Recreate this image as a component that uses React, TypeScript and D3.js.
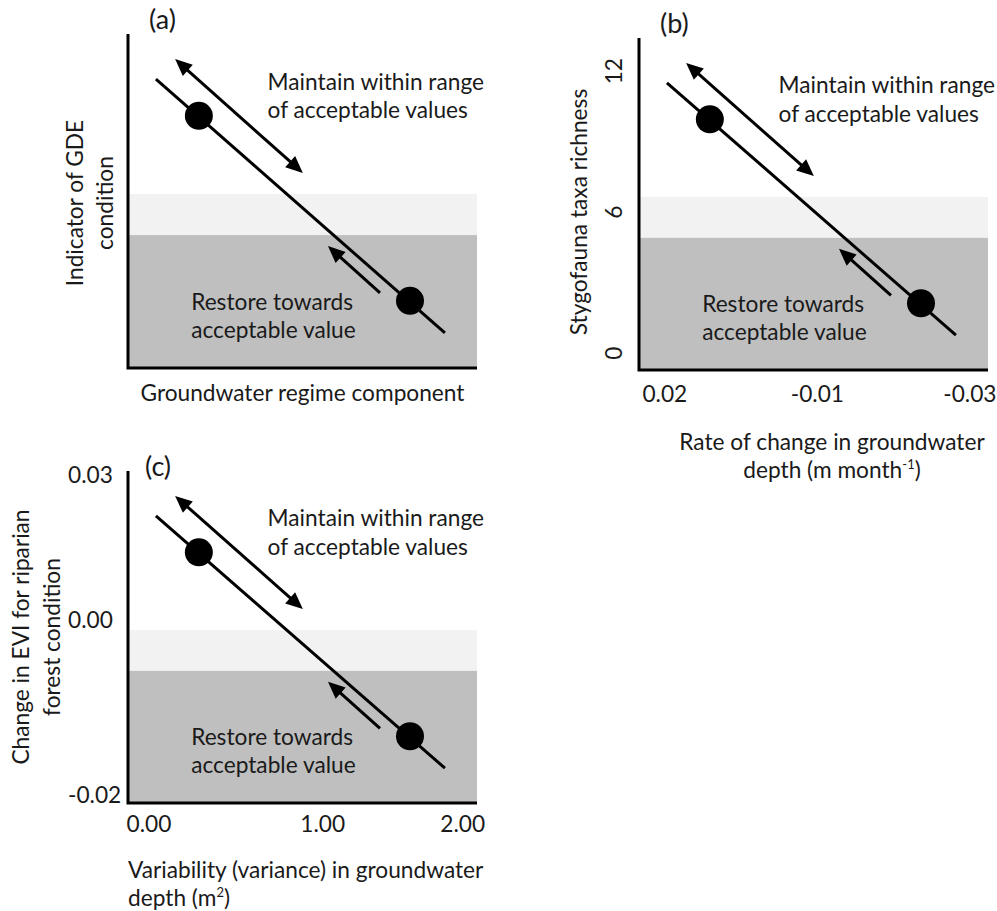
import React from 'react';
import * as d3 from 'd3';

// ---- Conceptual data (normalised 0..1 within each plot area) ----
const trendLine = [
  { x: 0.08, y: 0.865 },
  { x: 0.908, y: 0.105 },
];
const conditionPoints = [
  { x: 0.203, y: 0.755 },
  { x: 0.808, y: 0.201 },
];
const maintainArrow = [
  { x: 0.135, y: 0.925 },
  { x: 0.501, y: 0.584 },
];
const restoreArrow = [
  { x: 0.722, y: 0.225 },
  { x: 0.573, y: 0.365 },
];
const acceptableBand = [0.398, 0.521];
const unacceptableBand = [0, 0.398];

const maintainText = ['Maintain within range', 'of acceptable values'];
const restoreText = ['Restore towards', 'acceptable value'];
const panelLabels = ['(a)', '(b)', '(c)'];

// ---- Axis titles and ticks ----
const aYTitle = ['Indicator of GDE', 'condition'];
const aXTitle = 'Groundwater regime component';

const bYTicks = [0, 6, 12];
const bXTicks = ['0.02', '-0.01', '-0.03'];
const bYTitle = 'Stygofauna taxa richness';
const bXTitle1 = 'Rate of change in groundwater';

const cYTicks = [-0.02, 0.0, 0.03];
const cXTicks = [0, 1, 2];
const cYTitle = ['Change in EVI for riparian', 'forest condition'];
const cXTitle1 = 'Variability (variance) in groundwater';

const FONT = 'Lato, "Open Sans", sans-serif';
const TXT = '#1a1a1a';
const FS = 22.7;
const LABEL_FS = 27;

const fmt2 = (v: number) => d3.format('.2f')(v).replace('\u2212', '-');

type Frame = { left: number; top: number; right: number; bottom: number };

function Arrow({ p0, p1, x, y, both }: any) {
  const x0 = x(p0.x), y0 = y(p0.y), x1 = x(p1.x), y1 = y(p1.y);
  const dx = x1 - x0, dy = y1 - y0;
  const len = Math.hypot(dx, dy);
  const ux = dx / len, uy = dy / len;
  const L = 17, W = 7.5;
  const head = (tx: number, ty: number, dirx: number, diry: number) => {
    const bx = tx - dirx * L, by = ty - diry * L;
    const px = -diry * W, py = dirx * W;
    return `M${tx},${ty}L${bx + px},${by + py}L${bx - px},${by - py}Z`;
  };
  const sx = both ? x0 + ux * (L - 2) : x0;
  const sy = both ? y0 + uy * (L - 2) : y0;
  const ex = x1 - ux * (L - 2), ey = y1 - uy * (L - 2);
  return (
    <g>
      <line x1={sx} y1={sy} x2={ex} y2={ey} stroke="#000" strokeWidth={3} />
      <path d={head(x1, y1, ux, uy)} fill="#000" />
      {both && <path d={head(x0, y0, -ux, -uy)} fill="#000" />}
    </g>
  );
}

function Panel({ f, label, labelDx, labelDy, children }: { f: Frame; label: string; labelDx: number; labelDy: number; children?: any }) {
  const x = d3.scaleLinear().domain([0, 1]).range([f.left, f.right]);
  const y = d3.scaleLinear().domain([0, 1]).range([f.bottom, f.top]);
  const line = d3.line<{ x: number; y: number }>().x(d => x(d.x)).y(d => y(d.y));
  return (
    <g>
      <rect x={x(0)} y={y(acceptableBand[1])} width={x(1) - x(0)} height={y(acceptableBand[0]) - y(acceptableBand[1])} fill="#f2f2f2" />
      <rect x={x(0)} y={y(unacceptableBand[1])} width={x(1) - x(0)} height={y(unacceptableBand[0]) - y(unacceptableBand[1])} fill="#bfbfbf" />
      <path d={line(trendLine) || ''} stroke="#000" strokeWidth={3} fill="none" />
      {conditionPoints.map((p, i) => (
        <circle key={i} cx={x(p.x)} cy={y(p.y)} r={14} fill="#000" />
      ))}
      <Arrow p0={maintainArrow[0]} p1={maintainArrow[1]} x={x} y={y} both />
      <Arrow p0={restoreArrow[0]} p1={restoreArrow[1]} x={x} y={y} />
      <text x={x(0.4)} y={f.top + 0.167 * (f.bottom - f.top)} fontSize={FS} fill={TXT}>
        <tspan x={x(0.4)}>{maintainText[0]}</tspan>
        <tspan x={x(0.4)} dy={28.5}>{maintainText[1]}</tspan>
      </text>
      <text x={x(0.181)} y={f.top + 0.825 * (f.bottom - f.top)} fontSize={FS} fill={TXT}>
        <tspan x={x(0.181)}>{restoreText[0]}</tspan>
        <tspan x={x(0.181)} dy={28.5}>{restoreText[1]}</tspan>
      </text>
      <path d={`M${f.left},${f.top}V${f.bottom}H${f.right}`} stroke="#000" strokeWidth={3} fill="none" />
      <text x={f.left + labelDx} y={f.top + labelDy} fontSize={LABEL_FS} fill={TXT}>{label}</text>
      {children && children(x, y)}
    </g>
  );
}

export default function App() {
  const A: Frame = { left: 128, top: 34, right: 477, bottom: 368 };
  const B: Frame = { left: 639, top: 38, right: 988, bottom: 370 };
  const C: Frame = { left: 128, top: 471, right: 477, bottom: 803 };

  return (
    <svg width={997} height={911} style={{ position: 'absolute', left: 0, top: 0, background: '#fff' }} fontFamily={FONT}>
      <rect width={997} height={911} fill="#fff" />
      {/* Panel (a) */}
      <Panel f={A} label={panelLabels[0]} labelDx={21} labelDy={-5}>
        {() => (
          <g fill={TXT} fontSize={FS}>
            <text transform={`translate(83,203) rotate(-90)`} textAnchor="middle">{aYTitle[0]}</text>
            <text transform={`translate(113,203) rotate(-90)`} textAnchor="middle">{aYTitle[1]}</text>
            <text x={(A.left + A.right) / 2} y={401} textAnchor="middle">{aXTitle}</text>
          </g>
        )}
      </Panel>

      {/* Panel (b) */}
      <Panel f={B} label={panelLabels[1]} labelDx={21} labelDy={-5}>
        {(x: any, y: any) => {
          const ty = d3.scaleLinear().domain([0, 12]).range([y(0.051), y(0.9)]);
          const tx = d3.scalePoint<string>().domain(bXTicks).range([x(0.074), x(0.948)]);
          return (
            <g fill={TXT} fontSize={FS}>
              {bYTicks.map(t => (
                <text key={t} transform={`translate(622,${ty(t)}) rotate(-90)`} textAnchor="middle">{t}</text>
              ))}
              {bXTicks.map(t => (
                <text key={t} x={tx(t)} y={402} textAnchor="middle">{t}</text>
              ))}
              <text transform={`translate(587,212) rotate(-90)`} textAnchor="middle">{bYTitle}</text>
              <text x={832} y={450} textAnchor="middle">{bXTitle1}</text>
              <text x={832} y={478} textAnchor="middle">
                depth (m month<tspan fontSize={13} dy={-9}>-1</tspan><tspan dy={9}>)</tspan>
              </text>
            </g>
          );
        }}
      </Panel>

      {/* Panel (c) */}
      <Panel f={C} label={panelLabels[2]} labelDx={17} labelDy={5}>
        {(x: any, y: any) => {
          const ty = d3.scaleLinear().domain(cYTicks).range([y(0.025), y(0.552), y(0.988)]);
          const tx = d3.scaleLinear().domain(cXTicks).range([x(0.06), x(0.558), x(0.959)]);
          return (
            <g fill={TXT} fontSize={FS}>
              {cYTicks.map(t => (
                <text key={t} x={68} y={ty(t)} dy="0.35em">{fmt2(t)}</text>
              ))}
              {cXTicks.map(t => (
                <text key={t} x={tx(t)} y={832} textAnchor="middle">{fmt2(t)}</text>
              ))}
              <text transform={`translate(29,637) rotate(-90)`} textAnchor="middle">{cYTitle[0]}</text>
              <text transform={`translate(60,637) rotate(-90)`} textAnchor="middle">{cYTitle[1]}</text>
              <text x={128} y={878}>{cXTitle1}</text>
              <text x={128} y={906}>
                depth (m<tspan fontSize={13} dy={-9}>2</tspan><tspan dy={9}>)</tspan>
              </text>
            </g>
          );
        }}
      </Panel>
    </svg>
  );
}
